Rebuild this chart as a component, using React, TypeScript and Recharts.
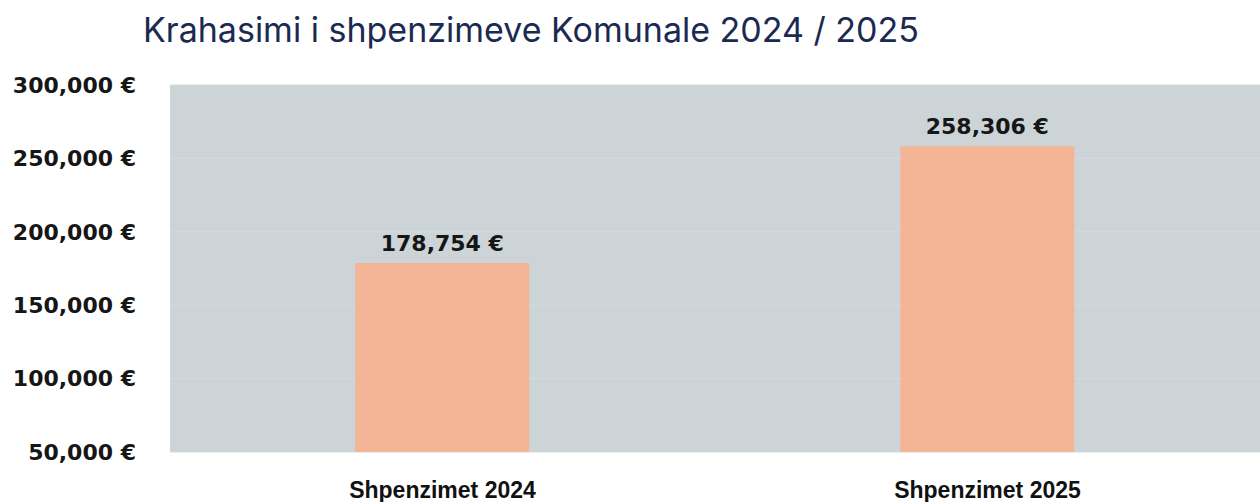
import { BarChart, Bar, XAxis, YAxis, CartesianGrid, LabelList } from 'recharts';

const categories = ['Shpenzimet 2024', 'Shpenzimet 2025'];
const spending = [178754, 258306];
const yTicks = [50000, 100000, 150000, 200000, 250000, 300000];

const data = categories.map((name, i) => ({ name, value: spending[i] }));

const euro = (v: number) => `${v.toLocaleString('en-US')} €`;

const numFont = { fill: '#161616', fontSize: 22, fontWeight: 700, fontFamily: '"DejaVu Sans", sans-serif' };

const App = () => {
  return (
    <div style={{ position: 'absolute', left: 0, top: 0, width: 1260, height: 502, background: '#fff' }}>
      <div
        style={{
          position: 'absolute',
          left: 143,
          top: 9,
          fontFamily: 'Inter, "Noto Sans", sans-serif',
          fontSize: 34,
          color: '#1b2a52',
          whiteSpace: 'nowrap',
        }}
      >
        Krahasimi i shpenzimeve Komunale 2024 / 2025
      </div>
      <BarChart
        width={1260}
        height={502}
        data={data}
        margin={{ top: 85, right: 0, left: 0, bottom: 0 }}
        barCategoryGap="34%"
      >
        <CartesianGrid fill="#cdd4d7" stroke="#d6dbdd" vertical={false} />
        <XAxis
          dataKey="name"
          height={50}
          axisLine={false}
          tickLine={false}
          tickMargin={24}
          tick={{ fill: '#111', fontSize: 23, fontWeight: 700, fontFamily: '"Liberation Sans", Arial, sans-serif' }}
        />
        <YAxis
          width={170}
          domain={[50000, 300000]}
          ticks={yTicks}
          allowDataOverflow
          axisLine={false}
          tickLine={false}
          tickSize={0}
          tickMargin={34}
          tickFormatter={euro}
          tick={numFont}
        />
        <Bar dataKey="value" fill="#f4b596" isAnimationActive={false}>
          <LabelList
            dataKey="value"
            position="top"
            offset={12}
            formatter={(v: any) => euro(Number(v))}
            style={numFont}
          />
        </Bar>
      </BarChart>
    </div>
  );
};

export default App;
